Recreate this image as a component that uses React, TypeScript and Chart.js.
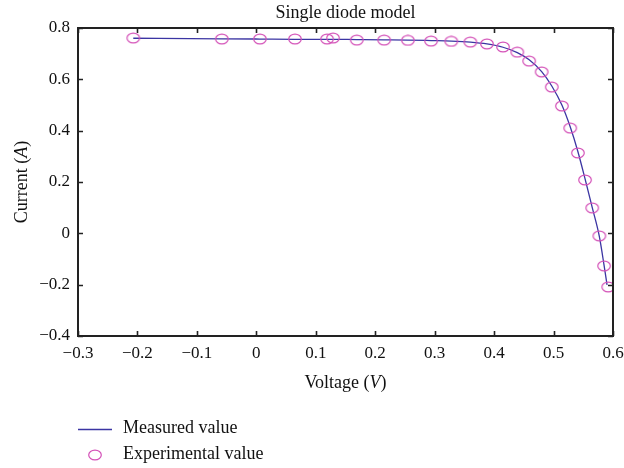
import React, { useEffect, useRef } from "react";
import { Chart, registerables } from "chart.js";
Chart.register(...registerables);

const chartTitle = "Single diode model";
const xAxisTitle = ["Voltage (", "V", ")"];
const yAxisTitle = ["Current (", "A", ")"];
const legendLabels = ["Measured value", "Experimental value"];

const experimentalVoltage = [-0.207, -0.058, 0.006, 0.065, 0.119, 0.129, 0.169, 0.215, 0.255, 0.294, 0.328, 0.360, 0.388, 0.415, 0.439, 0.459, 0.480, 0.497, 0.514, 0.528, 0.541, 0.553, 0.565, 0.577, 0.585, 0.592];
const experimentalCurrent = [0.761, 0.757, 0.757, 0.757, 0.757, 0.761, 0.753, 0.753, 0.752, 0.749, 0.748, 0.745, 0.738, 0.726, 0.706, 0.671, 0.629, 0.570, 0.496, 0.410, 0.313, 0.208, 0.099, -0.010, -0.127, -0.209];

const measuredVoltage = [-0.207, -0.058, 0.006, 0.065, 0.119, 0.169, 0.215, 0.255, 0.294, 0.328, 0.360, 0.388, 0.415, 0.439, 0.459, 0.480, 0.497, 0.514, 0.528, 0.541, 0.553, 0.565, 0.577, 0.585, 0.590];
const measuredCurrent = [0.760, 0.758, 0.757, 0.756, 0.756, 0.755, 0.754, 0.753, 0.751, 0.749, 0.745, 0.738, 0.725, 0.704, 0.676, 0.630, 0.574, 0.500, 0.415, 0.318, 0.212, 0.101, -0.012, -0.125, -0.201];

const xMin = -0.3, xMax = 0.6, xStep = 0.1;
const yMin = -0.4, yMax = 0.8, yStep = 0.2;

const LINE_COLOR = "#3b35a3";
const MARKER_COLOR = "#d452b8";
const AXIS_COLOR = "#222222";
const FONT = "'Liberation Serif', 'DejaVu Serif', serif";
const TEXT_SIZE = 18;
const TICK_SIZE = 17;

function makeEllipse(): HTMLCanvasElement {
  const c = document.createElement("canvas");
  c.width = 16;
  c.height = 12;
  const ctx = c.getContext("2d")!;
  ctx.strokeStyle = MARKER_COLOR;
  ctx.lineWidth = 1.2;
  ctx.beginPath();
  ctx.ellipse(8, 6, 6.3, 4.9, 0, 0, Math.PI * 2);
  ctx.stroke();
  return c;
}

function fmt(v: number): string {
  const r = Math.round(v * 10) / 10;
  if (Math.abs(r) < 1e-9) return "0";
  const s = r.toFixed(1);
  return s.replace("-", "\u2212");
}

function drawMixed(ctx: CanvasRenderingContext2D, parts: string[], cx: number, cy: number, size: number) {
  const fonts = [`${size}px ${FONT}`, `italic ${size}px ${FONT}`, `${size}px ${FONT}`];
  let total = 0;
  const widths = parts.map((p, i) => {
    ctx.font = fonts[i];
    const w = ctx.measureText(p).width;
    total += w;
    return w;
  });
  let x = cx - total / 2;
  ctx.textBaseline = "middle";
  ctx.textAlign = "left";
  parts.forEach((p, i) => {
    ctx.font = fonts[i];
    ctx.fillText(p, x, cy);
    x += widths[i];
  });
}

const decorPlugin = {
  id: "decor",
  afterDatasetsDraw(chart: any) {
    const { ctx, chartArea } = chart;
    const { left, right, top, bottom } = chartArea;
    const xs = chart.scales.x;
    const ys = chart.scales.y;
    ctx.save();
    ctx.strokeStyle = AXIS_COLOR;
    ctx.lineWidth = 2;
    ctx.strokeRect(left, top, right - left, bottom - top);
    ctx.lineWidth = 1.6;
    const tl = 5;
    ctx.beginPath();
    for (let v = xMin; v <= xMax + 1e-9; v += xStep) {
      const px = Math.round(xs.getPixelForValue(v)) + 0.5;
      ctx.moveTo(px, bottom);
      ctx.lineTo(px, bottom - tl);
      ctx.moveTo(px, top);
      ctx.lineTo(px, top + tl);
    }
    for (let v = yMin; v <= yMax + 1e-9; v += yStep) {
      const py = Math.round(ys.getPixelForValue(v)) + 0.5;
      ctx.moveTo(left, py);
      ctx.lineTo(left + tl, py);
      ctx.moveTo(right, py);
      ctx.lineTo(right - tl, py);
    }
    ctx.stroke();
    ctx.restore();
  },
  afterDraw(chart: any) {
    const { ctx, chartArea } = chart;
    const cx = (chartArea.left + chartArea.right) / 2;
    const cy = (chartArea.top + chartArea.bottom) / 2;
    ctx.save();
    ctx.fillStyle = "#111";
    ctx.font = `${TEXT_SIZE}px ${FONT}`;
    ctx.textAlign = "center";
    ctx.textBaseline = "middle";
    ctx.fillText(chartTitle, cx, 13);
    drawMixed(ctx, xAxisTitle, cx, 383, TEXT_SIZE);
    ctx.save();
    ctx.translate(22, cy);
    ctx.rotate(-Math.PI / 2);
    drawMixed(ctx, yAxisTitle, 0, 0, TEXT_SIZE);
    ctx.restore();
    // legend
    ctx.strokeStyle = LINE_COLOR;
    ctx.lineWidth = 1.3;
    ctx.beginPath();
    ctx.moveTo(78, 429.5);
    ctx.lineTo(112, 429.5);
    ctx.stroke();
    ctx.strokeStyle = MARKER_COLOR;
    ctx.lineWidth = 1.2;
    ctx.beginPath();
    ctx.ellipse(95, 455, 6.3, 4.9, 0, 0, Math.PI * 2);
    ctx.stroke();
    ctx.fillStyle = "#111";
    ctx.font = `${TEXT_SIZE}px ${FONT}`;
    ctx.textAlign = "left";
    ctx.fillText(legendLabels[0], 123, 428);
    ctx.fillText(legendLabels[1], 123, 454);
    ctx.restore();
  },
};

export default function App() {
  const ref = useRef<HTMLCanvasElement | null>(null);
  useEffect(() => {
    if (!ref.current) return;
    const chart = new Chart(ref.current, {
      type: "scatter",
      data: {
        datasets: [
          {
            label: legendLabels[0],
            data: measuredVoltage.map((v, i) => ({ x: v, y: measuredCurrent[i] })),
            showLine: true,
            borderColor: LINE_COLOR,
            borderWidth: 1.3,
            pointRadius: 0,
            cubicInterpolationMode: "monotone",
            order: 2,
          } as any,
          {
            label: legendLabels[1],
            data: experimentalVoltage.map((v, i) => ({ x: v, y: experimentalCurrent[i] })),
            showLine: false,
            pointStyle: makeEllipse(),
            pointRadius: 6,
            order: 1,
          } as any,
        ],
      },
      options: {
        responsive: false,
        animation: false,
        layout: { padding: { left: 0, right: 11, top: 28, bottom: 0 } },
        plugins: {
          legend: { display: false },
          title: { display: false },
          tooltip: { enabled: false },
        },
        scales: {
          x: {
            type: "linear",
            min: xMin,
            max: xMax,
            grid: { display: false, drawTicks: false },
            border: { display: false },
            ticks: {
              stepSize: xStep,
              padding: 7,
              color: "#111",
              font: { family: FONT, size: TICK_SIZE },
              maxRotation: 0,
              callback: (v: any) => fmt(Number(v)),
            },
            afterFit: (s: any) => {
              s.height = 132;
              s.paddingLeft = 0;
              s.paddingRight = 0;
            },
          },
          y: {
            type: "linear",
            min: yMin,
            max: yMax,
            grid: { display: false, drawTicks: false },
            border: { display: false },
            ticks: {
              stepSize: yStep,
              padding: 8,
              color: "#111",
              font: { family: FONT, size: TICK_SIZE },
              callback: (v: any) => fmt(Number(v)),
            },
            afterFit: (s: any) => {
              s.width = 78;
              s.paddingTop = 0;
              s.paddingBottom = 0;
            },
          },
        },
      },
      plugins: [decorPlugin],
    });
    return () => chart.destroy();
  }, []);
  return (
    <div style={{ position: "fixed", left: 0, top: 0, width: 624, height: 468, background: "#fff" }}>
      <canvas ref={ref} width={624} height={468} />
    </div>
  );
}
